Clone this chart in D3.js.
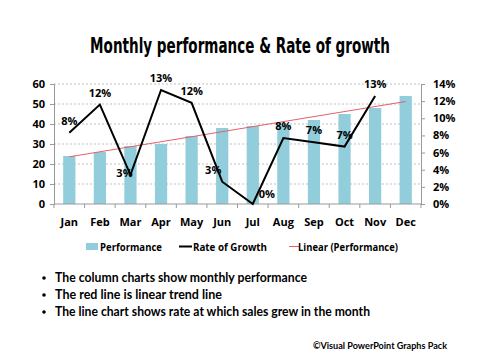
<!DOCTYPE html>
<html><head><meta charset="utf-8">
<script src="https://cdn.jsdelivr.net/npm/d3@7"></script>
<style>
body{margin:0;background:#fff;}
svg{display:block;}
text{font-family:"Open Sans","DejaVu Sans",sans-serif;}
</style></head>
<body>
<svg id="c" width="480" height="360"></svg>
<script>
const months = ["Jan","Feb","Mar","Apr","May","Jun","Jul","Aug","Sep","Oct","Nov","Dec"];
const performance = [24,26,29,30,34,38,39,40,42,45,48,54];
const growthRate = [8.3,11.6,3.4,13.3,11.8,2.6,0.0,7.7,7.2,6.7,12.6,null];
const growthLabelPlace = ["above","above","center","above","above","left","right","above","above","above","above","above"];
const leftTicks = [0,10,20,30,40,50,60];
const rightTicks = [0,2,4,6,8,10,12,14];
const bullets = ["The column charts show monthly performance","The red line is linear trend line","The line chart shows rate at which sales grew in the month"];
const legendNames = ["Performance","Rate of Growth","Linear (Performance)"];

const svg = d3.select("#c");
const m = {l:54, r:421, t:84, b:204};
const x = d3.scaleBand().domain(months).range([m.l,m.r]).paddingInner(0.6).paddingOuter(0.3);
const xc = d => x(d)+x.bandwidth()/2;
const yL = d3.scaleLinear().domain([0,60]).range([m.b,m.t]);
const yR = d3.scaleLinear().domain([0,14]).range([m.b,m.t]);

// title (horizontally condensed to match reference width)
const title = svg.append("text").attr("text-anchor","middle")
  .style("font-family","'DejaVu Sans',sans-serif").style("font-stretch","condensed")
  .style("font-weight","bold").style("font-size","21px")
  .text("Monthly performance & Rate of growth");
const tw = title.node().getComputedTextLength();
title.attr("transform",`translate(240,53) scale(${300/tw},1)`);

// gridlines
svg.append("g").selectAll("line").data(leftTicks.slice(1)).join("line")
  .attr("x1",m.l).attr("x2",m.r).attr("y1",d=>yL(d)).attr("y2",d=>yL(d))
  .attr("stroke","#bfbfbf").attr("stroke-dasharray","2,2").attr("stroke-width",1);

// bars
svg.append("g").selectAll("rect").data(performance).join("rect")
  .attr("x",(d,i)=>x(months[i])).attr("width",x.bandwidth())
  .attr("y",d=>yL(d)).attr("height",d=>yL(0)-yL(d)).attr("fill","#92cddc");

// axes
const axL = svg.append("g").attr("transform",`translate(${m.l},0)`)
  .call(d3.axisLeft(yL).tickValues(leftTicks).tickSize(4).tickPadding(5));
const axR = svg.append("g").attr("transform",`translate(${m.r},0)`)
  .call(d3.axisRight(yR).tickValues(rightTicks).tickSize(4).tickPadding(8).tickFormat(d=>d+"%"));
const axB = svg.append("g").attr("transform",`translate(0,${m.b})`)
  .call(d3.axisBottom(x).tickSize(0).tickPadding(14));
// category boundary ticks
const bounds = months.map(d=>x(d)-x.step()*x.paddingInner()/2).concat([m.r]);
svg.append("g").selectAll("line").data(bounds).join("line")
  .attr("x1",d=>d).attr("x2",d=>d).attr("y1",m.b).attr("y2",m.b+4).attr("stroke","#999");
[axL,axR,axB].forEach(a=>{
  a.select(".domain").attr("stroke","#999");
  a.selectAll(".tick line").attr("stroke","#999");
  a.selectAll("text").style("font-family","'Open Sans',sans-serif").style("font-weight","bold").style("font-size","11px").attr("fill","#000");
});
axB.select(".domain").attr("d",`M${m.l},0H${m.r}`);

// trend line (linear regression of performance)
const n = performance.length;
const mx = d3.mean(performance,(d,i)=>i), my = d3.mean(performance);
const slope = d3.sum(performance,(d,i)=>(i-mx)*(d-my))/d3.sum(performance,(d,i)=>(i-mx)*(i-mx));
const icpt = my - slope*mx;
svg.append("line").attr("x1",xc(months[0])).attr("x2",xc(months[n-1]))
  .attr("y1",yL(icpt)).attr("y2",yL(icpt+slope*(n-1)))
  .attr("stroke","#e4606a").attr("stroke-width",1);

// growth line
const gData = growthRate.map((v,i)=>({m:months[i],v,p:growthLabelPlace[i]})).filter(d=>d.v!==null);
svg.append("path").datum(gData)
  .attr("d",d3.line().x(d=>xc(d.m)).y(d=>yR(d.v)))
  .attr("fill","none").attr("stroke","#000").attr("stroke-width",2);

// labels
const off = {above:[0,-8],center:[-6,2],left:[-9,-8],right:[14,-6]};
svg.append("g").selectAll("text").data(gData).join("text")
  .attr("x",d=>xc(d.m)+off[d.p][0]).attr("y",d=>yR(d.v)+off[d.p][1])
  .attr("text-anchor","middle").style("font-size","11px").style("font-weight","bold")
  .text(d=>Math.round(d.v)+"%");

// legend
const lg = svg.append("g");
lg.append("rect").attr("x",86).attr("y",243).attr("width",12).attr("height",7).attr("fill","#92cddc");
lg.append("line").attr("x1",179).attr("x2",192).attr("y1",246.5).attr("y2",246.5).attr("stroke","#000").attr("stroke-width",2);
lg.append("line").attr("x1",289).attr("x2",300).attr("y1",246.5).attr("y2",246.5).attr("stroke","#e4606a").attr("stroke-width",1);
[[100,legendNames[0],62],[193,legendNames[1],74],[298,legendNames[2],100]].forEach(([px,t,w])=>{
  lg.append("text").attr("x",px).attr("y",250.5).style("font-size","11px").style("font-weight","bold")
    .attr("textLength",w).attr("lengthAdjust","spacingAndGlyphs").text(t);
});

// bullets
const bulletW = [252,167,315];
bullets.forEach((b,i)=>{
  const yy = 282 + i*17;
  svg.append("circle").attr("cx",44).attr("cy",yy-4).attr("r",1.8).attr("fill","#000");
  svg.append("text").attr("x",55).attr("y",yy).style("font-family","Lato,'Open Sans',sans-serif")
    .style("font-size","12.5px").style("font-weight","bold")
    .attr("textLength",bulletW[i]).attr("lengthAdjust","spacingAndGlyphs").text(b);
});
svg.append("text").attr("x",313).attr("y",349)
  .style("font-family","Lato,'Open Sans',sans-serif")
  .style("font-size","10px").style("font-weight","bold")
  .attr("textLength",134).attr("lengthAdjust","spacingAndGlyphs").text("©Visual PowerPoint Graphs Pack");
</script>
</body></html>
